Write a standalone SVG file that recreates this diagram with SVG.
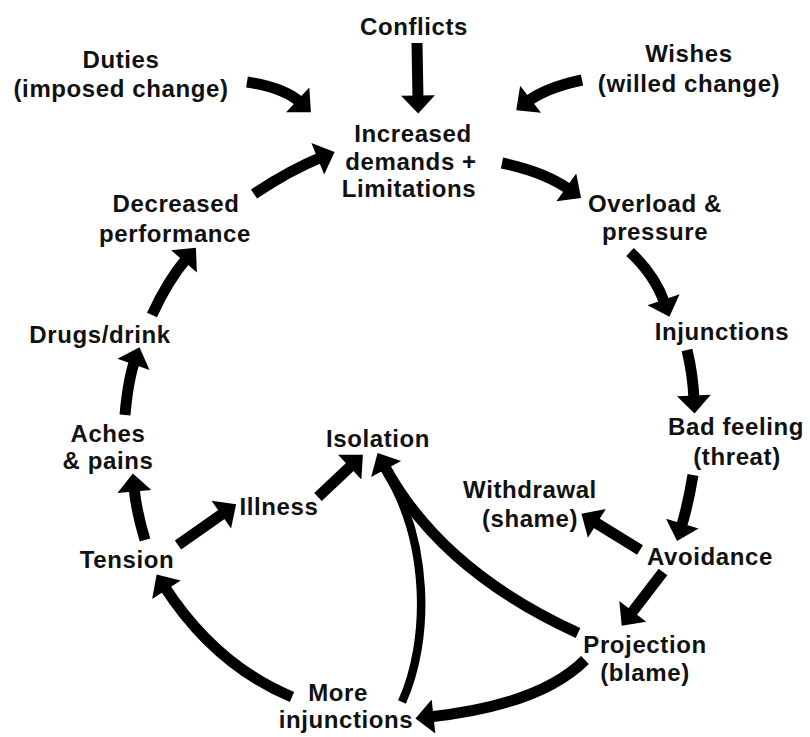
<svg xmlns="http://www.w3.org/2000/svg" width="810" height="737" viewBox="0 0 810 737">
<style>
.t{font-family:"Liberation Sans",Arial,sans-serif;font-weight:700;font-size:24px;letter-spacing:0.6px;fill:#111;text-anchor:middle}
.c{fill:none;stroke:#000;stroke-width:11;stroke-linecap:butt}
.c.th{stroke-width:8.5}
</style>
<defs>
<marker id="ah" markerUnits="userSpaceOnUse" markerWidth="34" markerHeight="34" viewBox="0 -15 16 30" refX="4" refY="0" orient="auto">
<path d="M0,-15 L16,0 L0,15 z" fill="#000"/>
</marker>
</defs>
<rect width="810" height="737" fill="#fff"/>
<g id="connectors">
<path class="c" d="M247,82 Q285,88 301,103" marker-end="url(#ah)"/>
<path class="c" d="M417,43 L418,100" marker-end="url(#ah)"/>
<path class="c" d="M582,80 Q545,88 527,102" marker-end="url(#ah)"/>
<path class="c" d="M254,194 Q290,170 322,157" marker-end="url(#ah)"/>
<path class="c" d="M502,163 Q545,172 570,190" marker-end="url(#ah)"/>
<path class="c" d="M630,252 Q655,275 665,304" marker-end="url(#ah)"/>
<path class="c" d="M687,350 Q693,375 694,400" marker-end="url(#ah)"/>
<path class="c" d="M693,475 Q688,505 681,528" marker-end="url(#ah)"/>
<path class="c" d="M640,550 L593,521" marker-end="url(#ah)"/>
<path class="c" d="M663,572 L630,615" marker-end="url(#ah)"/>
<path class="c" d="M578,633 Q440,570 384,465" marker-end="url(#ah)"/>
<path class="c th" d="M402,702 C430,640 430,540 384,468"/>
<path class="c" d="M585,660 Q540,705 429,717" marker-end="url(#ah)"/>
<path class="c" d="M292,697 Q215,665 164,586" marker-end="url(#ah)"/>
<path class="c" d="M178,545 L225,512" marker-end="url(#ah)"/>
<path class="c" d="M318,497 L353,464" marker-end="url(#ah)"/>
<path class="c" d="M145,540 Q136,510 134,487" marker-end="url(#ah)"/>
<path class="c" d="M125,415 Q128,380 135,360" marker-end="url(#ah)"/>
<path class="c" d="M152,315 Q168,280 187,258" marker-end="url(#ah)"/>
</g>
<g id="conflicts"><text class="t" x="414" y="35">Conflicts</text></g>
<g id="duties"><text class="t" x="121" y="68">Duties</text><text class="t" x="121" y="97">(imposed change)</text></g>
<g id="wishes"><text class="t" x="689" y="62">Wishes</text><text class="t" x="689" y="92">(willed change)</text></g>
<g id="increased"><text class="t" x="413" y="142">Increased</text><text class="t" x="411" y="170">demands +</text><text class="t" x="409" y="197">Limitations</text></g>
<g id="decreased"><text class="t" x="176" y="212">Decreased</text><text class="t" x="175" y="242">performance</text></g>
<g id="overload"><text class="t" x="655" y="212">Overload &amp;</text><text class="t" x="655" y="240">pressure</text></g>
<g id="injunctions"><text class="t" x="722" y="340">Injunctions</text></g>
<g id="badfeeling"><text class="t" x="736" y="435">Bad feeling</text><text class="t" x="737" y="465">(threat)</text></g>
<g id="withdrawal"><text class="t" x="530" y="498">Withdrawal</text><text class="t" x="530" y="527">(shame)</text></g>
<g id="avoidance"><text class="t" x="710" y="565">Avoidance</text></g>
<g id="projection"><text class="t" x="645" y="653">Projection</text><text class="t" x="645" y="681">(blame)</text></g>
<g id="moreinjunctions"><text class="t" x="338" y="701">More</text><text class="t" x="346" y="728">injunctions</text></g>
<g id="tension"><text class="t" x="127" y="568">Tension</text></g>
<g id="illness"><text class="t" x="279" y="515">Illness</text></g>
<g id="isolation"><text class="t" x="378" y="447">Isolation</text></g>
<g id="aches"><text class="t" x="108" y="442">Aches</text><text class="t" x="108" y="469">&amp; pains</text></g>
<g id="drugs"><text class="t" x="100" y="343">Drugs/drink</text></g>
</svg>
